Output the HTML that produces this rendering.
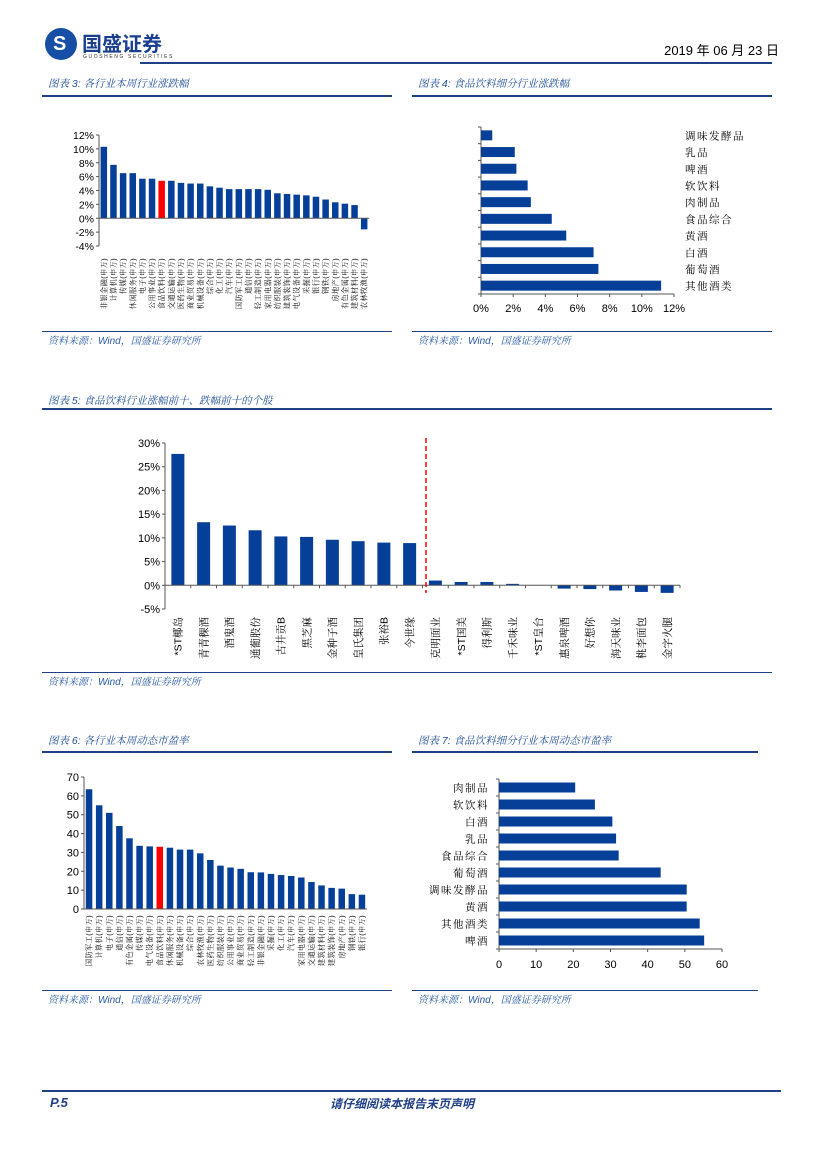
<!DOCTYPE html>
<html><head><meta charset="utf-8">
<style>
body{margin:0;background:#fff;}
#page{position:relative;width:827px;height:1170px;overflow:hidden;font-family:"Liberation Sans","Noto Sans CJK SC",sans-serif;}
.t{position:absolute;white-space:nowrap;}
.title{font-size:10.5px;color:#1f4e96;font-style:italic;font-family:"Liberation Sans","Noto Serif CJK SC",serif;}
.src{font-size:10px;color:#2a5aa5;font-style:italic;font-family:"Liberation Sans","Noto Serif CJK SC",serif;}
.ln{position:absolute;background:#1f3f86;}
svg{position:absolute;left:0;top:0;}
svg text{font-family:"Liberation Sans","Noto Serif CJK SC",sans-serif;fill:#000;}
</style></head><body>
<div id="page">
<div class="t" style="left:45px;top:28px;width:32px;height:32px;border-radius:50%;background:#174ea6;"></div>
<div class="t" style="left:53px;top:36px;color:#fff;font-size:20px;font-weight:bold;line-height:16px;">S</div>
<div class="t" style="left:82px;top:28px;font-size:20px;font-weight:bold;color:#1a3f8f;font-family:'Noto Sans CJK SC',sans-serif;">国盛证券</div>
<div class="t" style="left:83px;top:54px;font-size:5px;color:#333;letter-spacing:1.6px;">GUOSHENG SECURITIES</div>
<div class="t" style="right:48px;top:40px;font-size:13px;color:#000;">2019 年 06 月 23 日</div>
<div class="ln" style="left:140px;top:62px;width:632px;height:2px;"></div>

<div class="t title" style="left:48px;top:76px;">图表 3:  各行业本周行业涨跌幅</div>
<div class="ln" style="left:42px;top:95px;width:350px;height:2px;"></div>
<div class="t title" style="left:418px;top:76px;">图表 4:  食品饮料细分行业涨跌幅</div>
<div class="ln" style="left:412px;top:95px;width:360px;height:2px;"></div>
<div class="ln" style="left:42px;top:331px;width:350px;height:1px;"></div>
<div class="t src" style="left:48px;top:332px;">资料来源：Wind，国盛证券研究所</div>
<div class="ln" style="left:412px;top:331px;width:360px;height:1px;"></div>
<div class="t src" style="left:418px;top:332px;">资料来源：Wind，国盛证券研究所</div>

<div class="t title" style="left:48px;top:393px;">图表 5:  食品饮料行业涨幅前十、跌幅前十的个股</div>
<div class="ln" style="left:42px;top:408px;width:730px;height:2px;"></div>
<div class="ln" style="left:42px;top:672px;width:730px;height:1px;"></div>
<div class="t src" style="left:48px;top:673px;">资料来源：Wind，国盛证券研究所</div>

<div class="t title" style="left:48px;top:733px;">图表 6:  各行业本周动态市盈率</div>
<div class="ln" style="left:42px;top:751px;width:350px;height:2px;"></div>
<div class="t title" style="left:418px;top:733px;">图表 7:  食品饮料细分行业本周动态市盈率</div>
<div class="ln" style="left:412px;top:751px;width:346px;height:2px;"></div>
<div class="ln" style="left:42px;top:990px;width:350px;height:1px;"></div>
<div class="t src" style="left:48px;top:991px;">资料来源：Wind，国盛证券研究所</div>
<div class="ln" style="left:412px;top:990px;width:346px;height:1px;"></div>
<div class="t src" style="left:418px;top:991px;">资料来源：Wind，国盛证券研究所</div>

<div class="ln" style="left:42px;top:1090px;width:739px;height:2px;"></div>
<div class="t" style="left:50px;top:1095px;font-size:13px;font-weight:bold;font-style:italic;color:#1f3f86;">P.5</div>
<div class="t" style="left:330px;top:1095px;font-size:12px;font-weight:bold;font-style:italic;color:#1f3f86;font-family:'Noto Sans CJK SC',sans-serif;">请仔细阅读本报告末页声明</div>

<svg id="svg" width="827" height="1170"></svg>
</div>
<script>
const c3Cats=["非银金融","计算机","传媒","休闲服务","电子","公用事业","食品饮料","交通运输","医药生物","商业贸易","机械设备","综合","化工","汽车","国防军工","通信","轻工制造","家用电器","纺织服装","建筑装饰","电气设备","采掘","银行","钢铁","房地产","有色金属","建筑材料","农林牧渔"];
const c3Vals=[10.3,7.7,6.5,6.5,5.7,5.7,5.4,5.4,5.1,5.0,5.0,4.6,4.4,4.2,4.2,4.2,4.2,4.1,3.6,3.5,3.4,3.3,3.1,2.7,2.3,2.1,1.9,-1.6];
const c3Ticks=[-4,-2,0,2,4,6,8,10,12];
const c4Cats=["调味发酵品","乳品","啤酒","软饮料","肉制品","食品综合","黄酒","白酒","葡萄酒","其他酒类"];
const c4Vals=[0.7,2.1,2.2,2.9,3.1,4.4,5.3,7.0,7.3,11.2];
const c4Ticks=[0,2,4,6,8,10,12];
const c5Cats=["*ST椰岛","青青稞酒","酒鬼酒","通葡股份","古井贡B","黑芝麻","金种子酒","皇氏集团","张裕B","今世缘","克明面业","*ST国美","得利斯","千禾味业","*ST皇台","惠泉啤酒","好想你","海天味业","桃李面包","金字火腿"];
const c5Vals=[27.7,13.3,12.6,11.6,10.3,10.2,9.6,9.3,9.0,8.9,1.0,0.7,0.7,0.3,0,-0.7,-0.8,-1.1,-1.4,-1.6];
const c5Ticks=[-5,0,5,10,15,20,25,30];
const c6Cats=["国防军工","计算机","电子","通信","有色金属","传媒","电气设备","食品饮料","休闲服务","机械设备","综合","农林牧渔","医药生物","纺织服装","公用事业","商业贸易","轻工制造","非银金融","采掘","化工","汽车","家用电器","交通运输","建筑材料","建筑装饰","房地产","钢铁","银行"];
const c6Vals=[63.5,55,51,44,37.5,33.5,33.2,33,32.5,31.5,31.5,29.5,26,23,22,21.3,19.5,19.4,18.6,18,17.5,16.7,14.3,12.5,11.2,10.8,7.9,7.6];
const c6Ticks=[0,10,20,30,40,50,60,70];
const c7Cats=["肉制品","软饮料","白酒","乳品","食品综合","葡萄酒","调味发酵品","黄酒","其他酒类","啤酒"];
const c7Vals=[20.5,25.8,30.5,31.5,32.2,43.5,50.5,50.5,54,55.2];
const c7Ticks=[0,10,20,30,40,50,60];

const NS="http://www.w3.org/2000/svg";
const svg=document.getElementById('svg');
const BLUE="#063f97";
function mk(tag,attrs,parent){const e=document.createElementNS(NS,tag);for(const k in attrs)e.setAttribute(k,attrs[k]);(parent||svg).appendChild(e);return e;}

function colChart(name,cats,vals,ticks,o){
  const g=mk('g',{});
  
  
  const y=v=>o.y0-(v-ticks[0])/(ticks[ticks.length-1]-ticks[0])*(o.y0-o.y1);
  const step=(o.x1-o.x0)/cats.length;
  const ax=mk('line',{x1:o.x0,x2:o.x0,y1:y(ticks[ticks.length-1]),y2:y(ticks[0]),stroke:'#555','stroke-width':1},g);
  
  
  ticks.forEach(t=>{
    mk('line',{x1:o.x0-3,x2:o.x0,y1:y(t),y2:y(t),stroke:'#555'},g);
    const tx=mk('text',{x:o.x0-5,y:y(t)+4,'text-anchor':'end','font-size':o.tfs},g);
    tx.textContent=t+(o.pct?'%':'');
    
    
  });
  const base=y(o.base);
  cats.forEach((c,i)=>{
    const cx=o.x0+step*(i+0.5);
    const v=vals[i];
    const top=Math.min(y(v),base),h=Math.abs(y(v)-base);
    const r=mk('rect',{x:cx-o.bw/2,y:top,width:o.bw,height:Math.max(h,0),fill:(o.red===i?'#f00':BLUE)},g);
    
    
    if(o.ticksX) mk('line',{x1:o.x0+step*(i+1),x2:o.x0+step*(i+1),y1:base,y2:base+3,stroke:'#555'},g);
    const lt=mk('text',{x:0,y:0,'font-size':o.lfs,transform:`translate(${cx+o.lfs*0.35},${o.ly}) rotate(-90)`,'text-anchor':'end','letter-spacing':o.ls||0},g);
    lt.textContent=c+(o.suffix||'');
    
    
  });
  const zl=mk('line',{x1:o.x0,x2:o.x1,y1:base,y2:base,stroke:'#555','stroke-width':1},g);
  
  
  return {y,step};
}
function barChart(name,cats,vals,ticks,o){
  const g=mk('g',{});
  
  
  const x=v=>o.x0+(v-ticks[0])/(ticks[ticks.length-1]-ticks[0])*(o.x1-o.x0);
  const step=(o.y1-o.y0)/cats.length;
  mk('line',{x1:o.x0,x2:o.x0,y1:o.y0,y2:o.y1,stroke:'#555'},g);
  mk('line',{x1:o.x0,x2:o.x1,y1:o.y1,y2:o.y1,stroke:'#555'},g);
  for(let i=0;i<=cats.length;i++) mk('line',{x1:o.x0-3,x2:o.x0,y1:o.y0+step*i,y2:o.y0+step*i,stroke:'#555'},g);
  ticks.forEach(t=>{
    mk('line',{x1:x(t),x2:x(t),y1:o.y1,y2:o.y1+3,stroke:'#555'},g);
    const tx=mk('text',{x:x(t),y:o.y1+o.tdy,'text-anchor':'middle','font-size':11},g);
    tx.textContent=t+(o.pct?'%':'');
    
    
  });
  cats.forEach((c,i)=>{
    const cy=o.y0+step*(i+0.5);
    const r=mk('rect',{x:o.x0,y:cy-o.bh/2,width:x(vals[i])-o.x0,height:o.bh,fill:BLUE},g);
    
    
    const lt=mk('text',{x:o.lx,y:cy+4,'text-anchor':o.anchor,'font-size':10.5,'letter-spacing':'1.5'},g);
    lt.textContent=c;
    
    
  });
}
colChart('chart3',c3Cats,c3Vals,c3Ticks,{x0:99,x1:369,y0:246,y1:135,base:0,bw:6.5,tfs:10.5,lfs:7.2,ly:258,pct:true,red:6,suffix:'(申万)',ls:0.4});
barChart('chart4',c4Cats,c4Vals,c4Ticks,{x0:481,x1:674,y0:127,y1:294,bh:10,pct:true,tdy:18,lx:685,anchor:'start'});
const c5=colChart('chart5',c5Cats,c5Vals,c5Ticks,{x0:165,x1:680,y0:609,y1:443,base:0,bw:13,tfs:11,lfs:10.5,ly:617,pct:true,ticksX:true});
const dl=mk('line',{x1:426,x2:426,y1:438,y2:593,stroke:'#f00','stroke-width':1.5,'stroke-dasharray':'5,3'});


colChart('chart6',c6Cats,c6Vals,c6Ticks,{x0:84,x1:367,y0:909,y1:777,base:0,bw:6.5,tfs:11,lfs:7.2,ly:915,red:7,suffix:'(申万)',ls:0.4});
barChart('chart7',c7Cats,c7Vals,c7Ticks,{x0:499,x1:722,y0:779,y1:949,bh:10,tdy:19,lx:489,anchor:'end'});
</script>
</body></html>
